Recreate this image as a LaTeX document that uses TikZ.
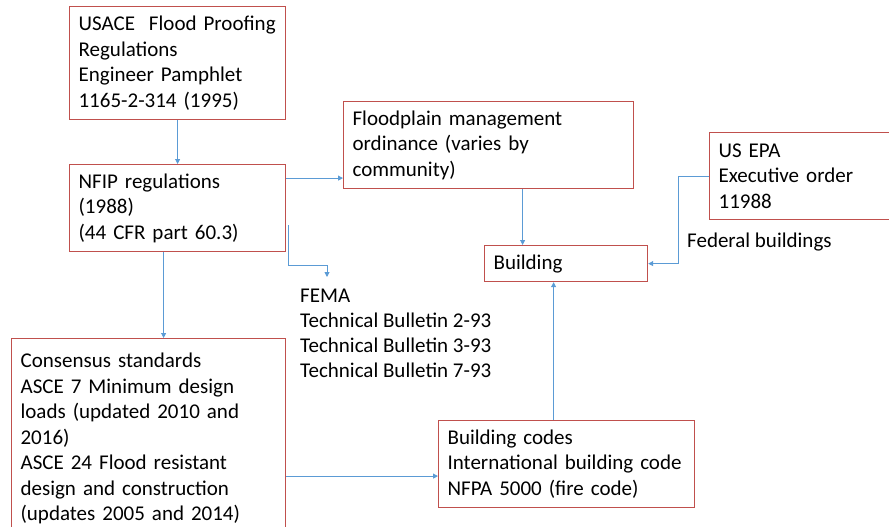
\documentclass[tikz,border=0pt]{standalone}
\usepackage{fontspec}
\setmainfont{Carlito}
\usetikzlibrary{arrows.meta}
\definecolor{boxred}{RGB}{192,80,77}
\definecolor{lineblue}{RGB}{91,155,213}
\tikzset{
     box/.style = { draw=boxred, line width=1.2pt, anchor=north west, align=left,
                    inner xsep=9pt, inner ysep=0pt, font=\fontsize{21}{25.5}\selectfont },
    note/.style = { align=left, inner sep=0pt, font=\fontsize{21}{25}\selectfont },
   arrow/.style = { color=lineblue, line width=0.9pt, -{Triangle[length=5pt,width=5pt]} }
}
\begin{document}
\begin{tikzpicture}[x=1pt,y=-1pt]
  \clip (0,0) rectangle (889,527);
  \node[box, text width=198pt, minimum height=113pt] (usace) at (69,6)
    {USACE\ \ Flood Proofing\\ Regulations\\ Engineer Pamphlet\\ 1165-2-314 (1995)};
  \node[box, text width=198pt, minimum height=87pt] (nfip) at (69,164)
    {NFIP regulations\\ (1988)\\ (44 CFR part 60.3)};
  \node[box, text width=272pt, minimum height=87pt] (flood) at (343,101)
    {Floodplain management\\ ordinance (varies by\\ community)};
  \node[box, text width=190pt, minimum height=87pt] (epa) at (709,132)
    {US EPA\\ Executive order\\ 11988};
  \node[box, text width=145pt, minimum height=36pt] (building) at (484,245) {Building};
  \node[box, text width=238pt, minimum height=87pt] (codes) at (438,420)
    {Building codes\\ International building code\\ NFPA 5000 (fire code)};
  \node[box, text width=256pt, minimum height=200pt] (consensus) at (11,338)
    {Consensus standards\\ ASCE 7 Minimum design\\ loads (updated 2010 and\\ 2016)\\
     ASCE 24 Flood resistant\\ design and construction\\ (updates 2005 and 2014)};
  \node[note, anchor=north west] (fema) at (300,289)
    {FEMA\\ Technical Bulletin 2-93\\ Technical Bulletin 3-93\\ Technical Bulletin 7-93};
  \node[note, anchor=west] (federal) at (687,242) {Federal buildings};
  \coordinate (femain) at (327,277);

  \draw [arrow] (usace) -- (nfip);
  \draw [arrow] ([yshift=30pt]nfip.east) -- ([yshift=30pt]nfip.east -| flood.west);
  \draw [arrow] ([xshift=34pt]flood.south) -- ([xshift=34pt]flood.south |- building.north);
  \draw [arrow] (epa.west) -- ++(-31pt,0) |- (building.east);
  \draw [arrow] ([xshift=-13pt]codes.north) -- ([xshift=-13pt]codes.north |- building.south);
  \draw [arrow] ([yshift=-12pt]codes.west -| consensus.east) -- ([yshift=-12pt]codes.west);
  \draw [arrow] ([xshift=-14pt]nfip.south) -- ([xshift=-14pt]nfip.south |- consensus.north);
  \draw [arrow] ([xshift=2pt,yshift=27pt]nfip.south east) |- ([yshift=12pt]femain) -- (femain);
\end{tikzpicture}
\end{document}
